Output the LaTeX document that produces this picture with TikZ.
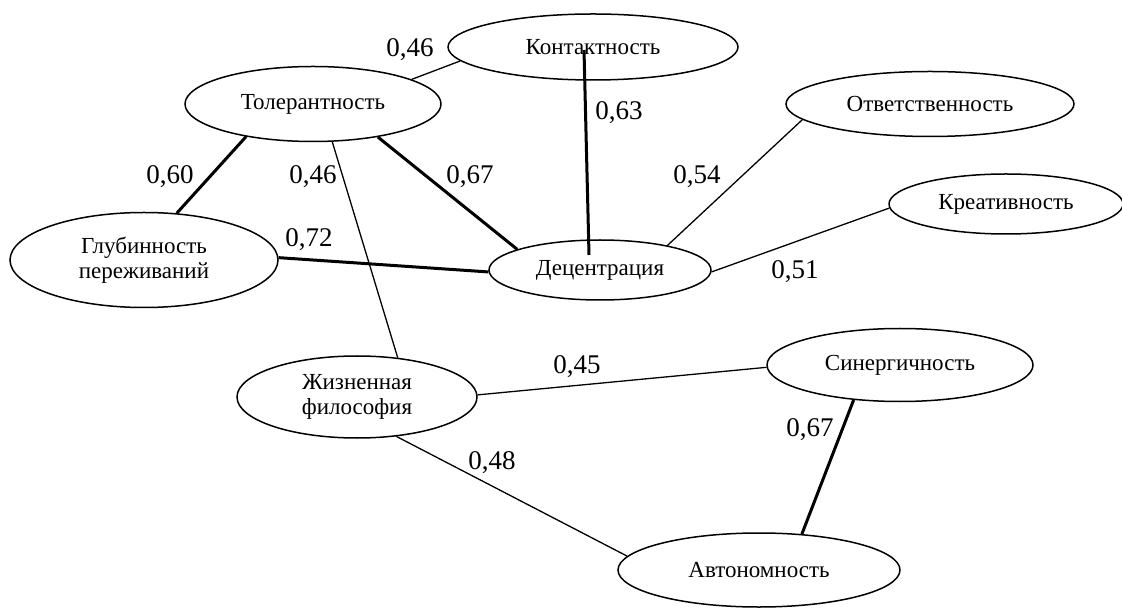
\documentclass[tikz,border=0pt]{standalone}
\usepackage{fontspec}
\setmainfont{Liberation Serif}
\usetikzlibrary{shapes.geometric}

\begin{document}
\begin{tikzpicture}[x=0.5pt, y=-0.5pt,
    trait/.style={ellipse, draw, line width=0.75pt, inner sep=0pt, align=center,
        font=\fontsize{11.5}{12.5}\selectfont},
    weak/.style={line width=0.65pt},
    strong/.style={line width=1.5pt},
    coef/.style={inner sep=0pt, font=\fontsize{13.5}{15}\selectfont}]
    \useasboundingbox (0, 0) rectangle (1122, 608);

    \node[trait, minimum width=145pt, minimum height=33pt] at (593, 47) (kont) {Контактность};
    \node[trait, minimum width=128pt, minimum height=37.5pt] at (313, 104) (tol) {Толерантность};
    \node[trait, minimum width=144pt, minimum height=32.5pt] at (930, 104) (otv) {Ответственность};
    \node[trait, minimum width=117pt, minimum height=30pt] at (1006, 204) (kreat) {Креативность};
    \node[trait, minimum width=134pt, minimum height=47.5pt] at (144, 260) (glub) {Глубинность\\переживаний};
    \node[trait, minimum width=111pt, minimum height=30pt] at (600, 270) (dec) {Децентрация};
    \node[trait, minimum width=120pt, minimum height=41pt] at (357, 397) (zhiz) {Жизненная\\философия};
    \node[trait, minimum width=133pt, minimum height=36.5pt] at (900, 365) (sin) {Синергичность};
    \node[trait, minimum width=141pt, minimum height=37pt] at (759, 570) (avt) {Автономность};

    % links
    \draw[weak] (tol.14) -- (kont.186);
    \draw[strong] (tol.206) -- (glub.55);
    \draw[weak] (tol.-63) -- (zhiz.44);
    \draw[strong] (tol.-27) -- (dec.166);
    \draw[strong] (glub.1) -- (dec.181);
    \draw[strong] ([shift={(-9,3)}]kont.center) -- ([shift={(-11,-15)}]dec.center);
    \draw[weak] (dec.20) -- (otv.187);
    \draw[weak] (dec.-1) -- (kreat.182);
    \draw[weak] (zhiz.1) -- (sin.181);
    \draw[weak] (zhiz.-45) -- (avt.174);
    \draw[strong] (sin.-143) -- (avt.40);

    % coefficients
    \node[coef] at (410, 50) (w1) {0,46};
    \node[coef] at (170, 177) (w2) {0,60};
    \node[coef] at (313, 177) (w3) {0,46};
    \node[coef] at (470, 177) (w4) {0,67};
    \node[coef] at (309, 240) (w5) {0,72};
    \node[coef] at (619, 113) (w6) {0,63};
    \node[coef] at (697, 177) (w7) {0,54};
    \node[coef] at (795, 272) (w8) {0,51};
    \node[coef] at (577, 367) (w9) {0,45};
    \node[coef] at (492, 463) (w10) {0,48};
    \node[coef] at (810, 430) (w11) {0,67};
\end{tikzpicture}
\end{document}
